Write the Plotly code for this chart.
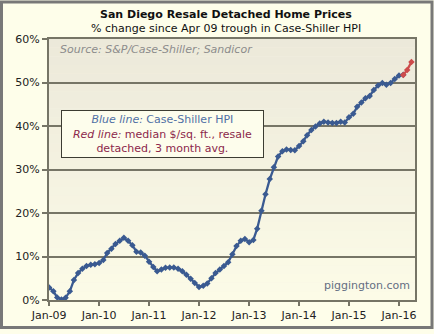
import plotly.graph_objects as go
import pandas as pd

# ---- data ----
blue_start = "2009-01-01"
cs_hpi = [2.9, 2.0, 0.6, 0.1, 0.5, 2.0, 4.6, 6.2, 7.2, 7.8, 8.1, 8.2,
          8.5, 9.2, 10.8, 11.8, 12.9, 13.6, 14.3, 13.6, 12.6, 11.1, 10.9, 10.2,
          8.8, 7.6, 6.6, 7.0, 7.4, 7.5, 7.5, 7.2, 6.6, 5.8, 4.9, 3.9,
          3.0, 3.3, 3.8, 5.0, 6.2, 7.0, 7.8, 8.7, 10.5, 12.4, 13.6, 14.0,
          13.3, 13.8, 16.4, 20.5, 24.3, 27.8, 30.5, 33.0, 34.2, 34.6, 34.5, 34.4,
          35.4, 36.5, 37.9, 39.1, 39.9, 40.6, 41.0, 40.8, 40.7, 40.7, 41.0, 40.8,
          42.0, 42.8, 44.4, 45.4, 46.4, 46.9, 48.3, 49.3, 49.9, 49.5, 49.9, 50.8,
          51.6, 51.8]
red_dates = ["2016-02-01", "2016-03-01", "2016-04-01"]
red_vals = [51.7, 52.9, 54.7]
cs_dates = pd.date_range(blue_start, periods=len(cs_hpi), freq="MS")

title = "San Diego Resale Detached Home Prices"
subtitle = "% change since Apr 09 trough in Case-Shiller HPI"

FONT = "DejaVu Sans"
BLUE = "rgb(58,90,145)"
RED = "rgb(205,75,75)"
GRID = "rgb(118,117,102)"

fig = go.Figure()
fig.add_trace(go.Scatter(x=cs_dates, y=cs_hpi, mode="lines+markers",
                         line=dict(color=BLUE, width=2.3),
                         marker=dict(symbol="diamond", size=5, color=BLUE),
                         showlegend=False, hoverinfo="skip"))
fig.add_trace(go.Scatter(x=pd.to_datetime(red_dates), y=red_vals, mode="lines+markers",
                         line=dict(color=RED, width=2.3),
                         marker=dict(symbol="diamond", size=5, color=RED),
                         showlegend=False, hoverinfo="skip"))

# plot-area gradient background (decor)
shapes = []
n = 30
top = (236, 233, 218)
bot = (252, 251, 231)
for i in range(n):
    t = i / (n - 1)
    c = tuple(round(top[k] + (bot[k] - top[k]) * t) for k in range(3))
    shapes.append(dict(type="rect", xref="paper", yref="paper",
                       x0=0, x1=1, y0=1 - (i + 1) / n, y1=1 - i / n,
                       fillcolor="rgb(%d,%d,%d)" % c, line=dict(width=0),
                       layer="below"))
# outer frame
shapes.append(dict(type="rect", xref="paper", yref="paper",
                   x0=(1.5 - 49) / 366, x1=(432 - 49) / 366,
                   y0=(304 - 332) / 265, y1=(304 - 1.5) / 265,
                   line=dict(color="rgb(120,120,120)", width=3),
                   fillcolor="rgba(0,0,0,0)", layer="above"))

annotations = [
    dict(text="<b>" + title + "</b>", x=(226 - 49) / 366, y=(304 - 14.5) / 265,
         xref="paper", yref="paper", showarrow=False, xanchor="center", yanchor="middle",
         font=dict(family=FONT, size=11, color="#111")),
    dict(text=subtitle, x=(226 - 49) / 366, y=(304 - 28) / 265,
         xref="paper", yref="paper", showarrow=False, xanchor="center", yanchor="middle",
         font=dict(family=FONT, size=11, color="#111")),
    dict(text="<i>Source: S&P/Case-Shiller; Sandicor</i>", x=(58 - 49) / 366, y=(304 - 50) / 265,
         xref="paper", yref="paper", showarrow=False, xanchor="left", yanchor="middle",
         font=dict(family=FONT, size=11, color="rgb(140,140,140)")),
    dict(text="<span style='color:rgb(80,112,165)'><i>Blue line:</i> Case-Shiller HPI</span><br>"
              "<span style='color:rgb(140,40,75)'><i>Red line:</i> median $/sq. ft., resale</span><br>"
              "<span style='color:rgb(140,40,75)'>detached, 3 month avg.</span>",
         x=(162.5 - 49) / 366, y=(304 - 135) / 265, xref="paper", yref="paper",
         showarrow=False, xanchor="center", yanchor="middle", align="center",
         width=201, height=46, borderpad=0, borderwidth=1, bordercolor="rgb(60,60,50)",
         bgcolor="rgb(253,253,236)",
         font=dict(family=FONT, size=11)),
    dict(text="piggington.com", x=(412 - 49) / 366, y=(304 - 289) / 265,
         xref="paper", yref="paper", showarrow=False, xanchor="right", yanchor="middle",
         font=dict(family=FONT, size=11, color="rgb(100,110,130)")),
]

fig.update_layout(
    width=434, height=334,
    margin=dict(l=49, r=19, t=39, b=30, pad=0),
    paper_bgcolor="rgb(254,254,234)",
    plot_bgcolor="rgb(245,243,226)",
    shapes=shapes, annotations=annotations,
    font=dict(family=FONT, size=11, color="#222"),
)
fig.update_xaxes(type="date", range=["2008-12-31", "2016-04-27"],
                 tick0="2009-01-01", dtick="M12", tickformat="%b-%y",
                 showgrid=False, zeroline=False,
                 showline=True, linecolor=GRID, linewidth=2, mirror=True,
                 ticks="outside", ticklen=4, tickwidth=2, tickcolor=GRID,
                 tickfont=dict(family=FONT, size=11, color="#222"))
fig.update_yaxes(range=[0, 60], dtick=10, ticksuffix="%",
                 showgrid=True, gridcolor=GRID, gridwidth=2, zeroline=False,
                 showline=True, linecolor=GRID, linewidth=2, mirror=True,
                 ticks="outside", ticklen=5, tickwidth=2, tickcolor=GRID,
                 tickfont=dict(family=FONT, size=11, color="#222"))

fig.write_html("out.html")
